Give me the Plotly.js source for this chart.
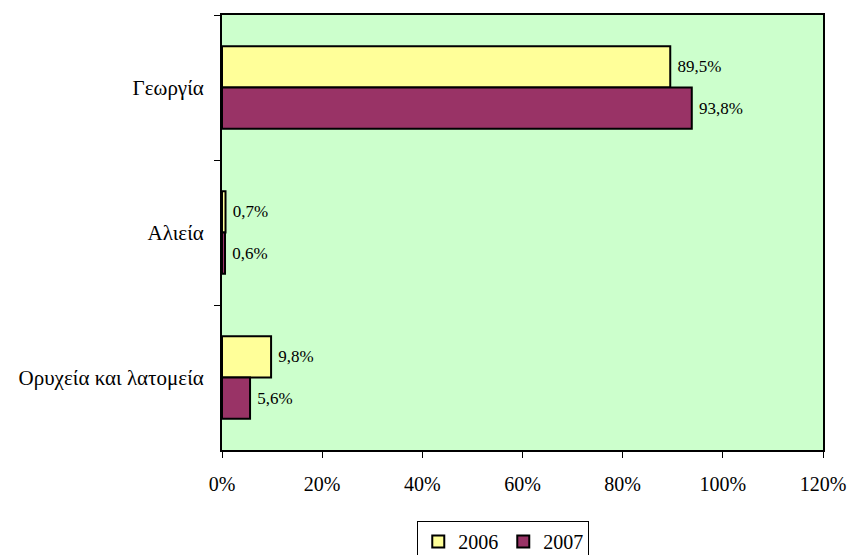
<!DOCTYPE html>
<html>
<head>
<meta charset="utf-8">
<script src="https://cdn.plot.ly/plotly-3.0.1.min.js"></script>
<style>html,body{margin:0;padding:0;background:#fff;}#chart{width:847px;height:555px;}</style>
</head>
<body>
<div id="chart"></div>
<script>
const categories = ["Γεωργία", "Αλιεία", "Ορυχεία και λατομεία"];
const series2006 = [89.5, 0.7, 9.8];
const series2007 = [93.8, 0.6, 5.6];
const seriesNames = ["2006", "2007"];
const xTicks = [0, 20, 40, 60, 80, 100, 120];

const fmt = v => '\u00a0' + v.toFixed(1).replace('.', ',') + '%';
const serif = "Liberation Serif";
const lblFont = {family: serif, size: 17, color: '#000'};

function mk(name, vals, color) {
  return {
    type: 'bar', orientation: 'h', name: name,
    y: categories, x: vals,
    text: vals.map(fmt), textposition: 'outside', cliponaxis: false,
    constraintext: 'none',
    textfont: lblFont, outsidetextfont: lblFont,
    marker: {color: color, line: {color: '#000', width: 2}},
    hoverinfo: 'none'
  };
}

const data = [mk(seriesNames[0], series2006, '#FFFF99'), mk(seriesNames[1], series2007, '#993366')];

const layout = {
  width: 847, height: 555,
  margin: {l: 222, r: 24, t: 15, b: 105, autoexpand: false},
  paper_bgcolor: '#fff', plot_bgcolor: '#CCFFCC',
  barmode: 'group', bargap: 0.43, bargroupgap: 0,
  font: {family: serif, size: 21, color: '#000'},
  showlegend: true,
  legend: {
    orientation: 'h', x: 0.468, xanchor: 'center', y: -0.163, yanchor: 'top',
    bordercolor: '#000', borderwidth: 1, bgcolor: '#fff',
    font: {family: serif, size: 20, color: '#000'},
    itemwidth: 30, tracegroupgap: 0
  },
  xaxis: {
    range: [0, 120], tickvals: xTicks, ticktext: xTicks.map(v => v + '%'),
    showgrid: false, zeroline: false,
    showline: true, linecolor: '#000', linewidth: 2, mirror: true,
    ticks: 'outside', ticklen: 6, tickcolor: '#000', tickwidth: 1,
    tickfont: {family: serif, size: 20, color: '#000'},
    ticklabeloverflow: 'allow',
    ticklabelstandoff: 9, fixedrange: true
  },
  yaxis: {
    type: 'category', autorange: 'reversed',
    categoryorder: 'array', categoryarray: categories,
    showgrid: false, zeroline: false,
    showline: true, linecolor: '#000', linewidth: 2, mirror: true,
    ticks: 'outside', tickson: 'boundaries', ticklen: 6, tickcolor: '#000', tickwidth: 1,
    tickfont: {family: serif, size: 21, color: '#000'},
    ticklabelstandoff: 12, fixedrange: true
  }
};

Plotly.newPlot('chart', data, layout, {displayModeBar: false, staticPlot: true});
</script>
</body>
</html>
